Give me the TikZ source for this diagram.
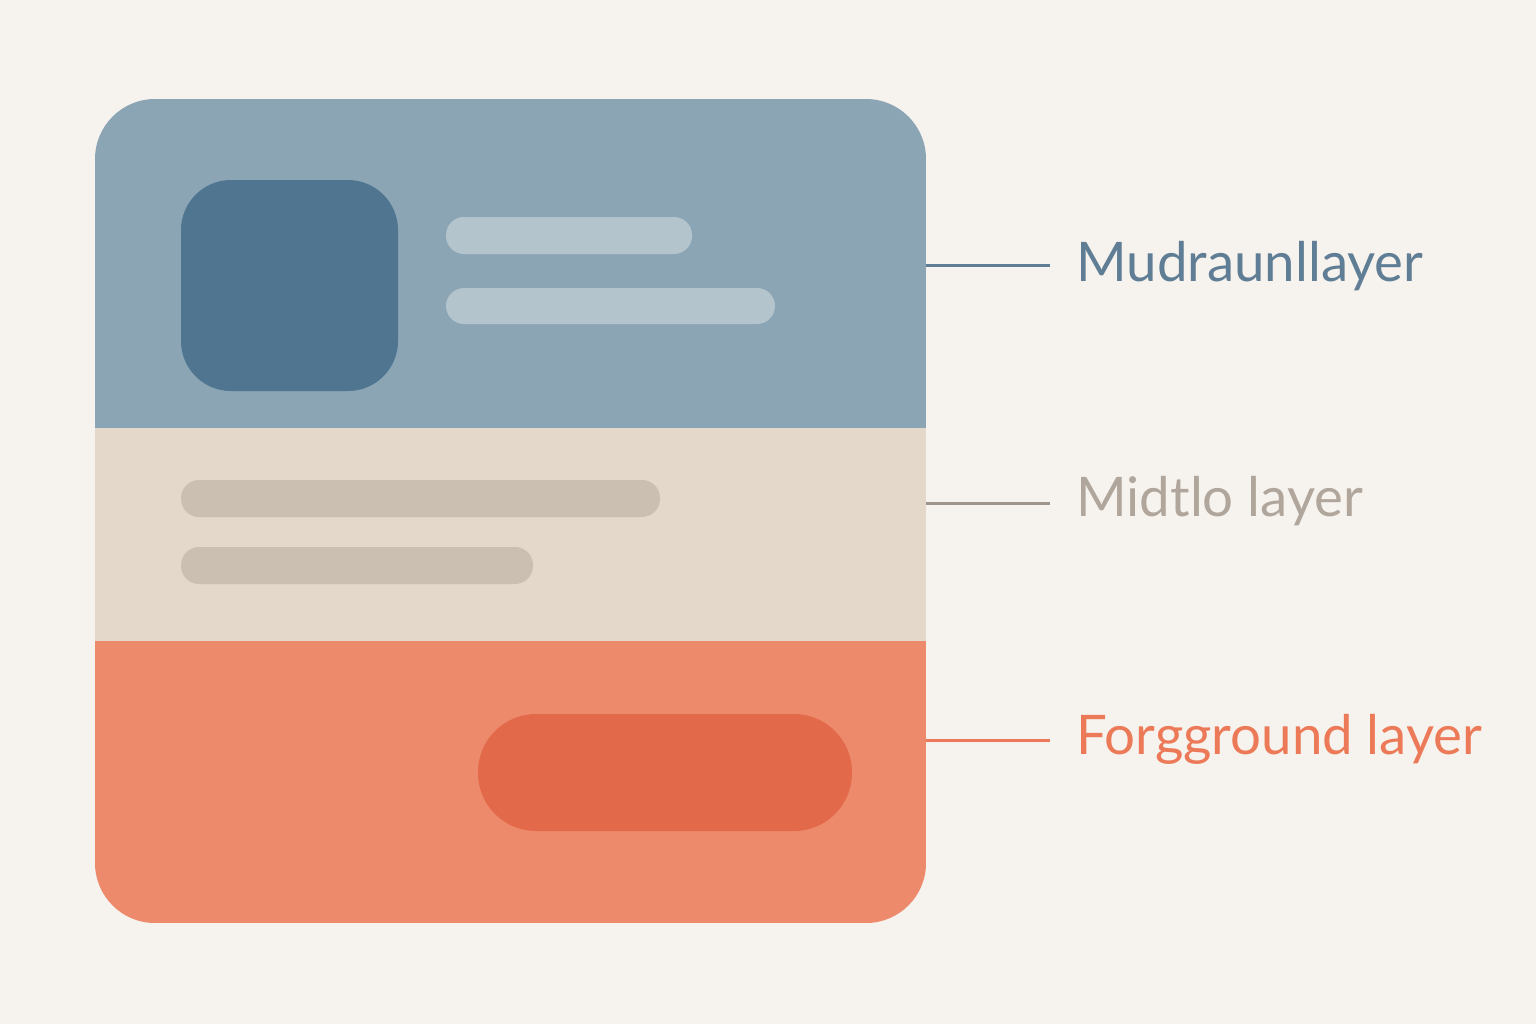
\documentclass[tikz,border=0pt]{standalone}
\usepackage{fontspec}
\setmainfont{Lato}
\definecolor{bgc}{HTML}{F6F2ED}
\definecolor{topc}{HTML}{8BA5B5}
\definecolor{midc}{HTML}{E4D8CA}
\definecolor{botc}{HTML}{EE8A6C}
\definecolor{darkblue}{HTML}{4F7590}
\definecolor{lightbar}{HTML}{B3C4CD}
\definecolor{midbar}{HTML}{CBBFB2}
\definecolor{pillc}{HTML}{E2694A}
\definecolor{bluetxt}{HTML}{5F7D95}
\definecolor{graytxt}{HTML}{B0A69C}
\definecolor{orangetxt}{HTML}{EC7A58}
\begin{document}
\begin{tikzpicture}[x=0.5pt,y=-0.5pt,
  lbl/.style={anchor=west,inner xsep=13pt,inner ysep=0pt,font=\fontsize{27.3}{33}\selectfont},
  conn/.style={line width=1.5pt}]
\fill[bgc] (0,0) rectangle (1536,1024);
\useasboundingbox (0,0) rectangle (1536,1024);
% card
\begin{scope}
\clip[rounded corners=30pt] (95,99) rectangle (926,923);
\fill[topc] (95,99) rectangle (926,428);
\fill[midc] (95,428) rectangle (926,641);
\fill[botc] (95,641) rectangle (926,923);
\end{scope}
% top contents
\fill[darkblue,rounded corners=25pt] (181,180) rectangle (398,391);
\fill[lightbar,rounded corners=9pt] (446,217) rectangle (692,254);
\fill[lightbar,rounded corners=9pt] (446,288) rectangle (775,324);
% middle contents
\fill[midbar,rounded corners=9pt] (181,480) rectangle (660,517);
\fill[midbar,rounded corners=9pt] (181,547) rectangle (533,584);
% pill
\fill[pillc,rounded corners=29pt] (478,714) rectangle (852,831);
% anchors on card edge
\coordinate (c1) at (926,265);
\coordinate (c2) at (926,503);
\coordinate (c3) at (926,740);
% labels
\node[lbl,text=bluetxt] (l1) at (1050,266) {Mudraunllayer};
\node[lbl,text=graytxt] (l2) at (1050,501) {Midtlo layer};
\node[lbl,text=orangetxt] (l3) at (1050,739) {Forgground layer};
\draw[conn,bluetxt] (c1) -- (c1 -| l1.west);
\draw[conn,graytxt!90!black] (c2) -- (c2 -| l2.west);
\draw[conn,orangetxt] (c3) -- (c3 -| l3.west);
\end{tikzpicture}
\end{document}
